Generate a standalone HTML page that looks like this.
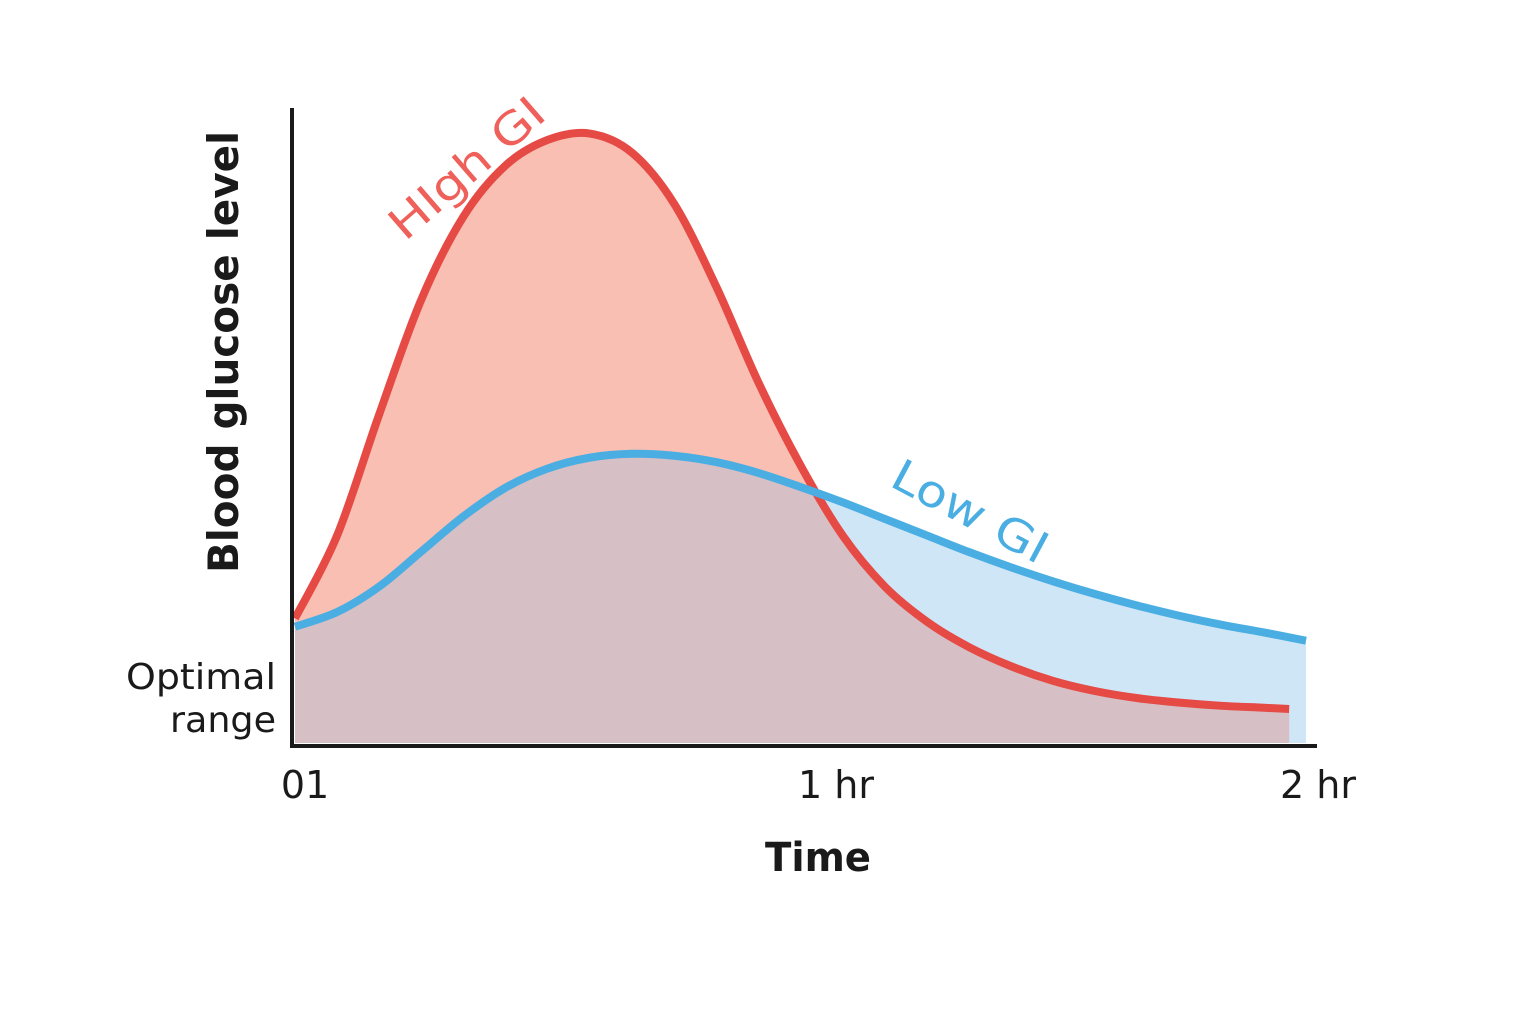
<!DOCTYPE html>
<html><head><meta charset="utf-8"><style>
html,body{margin:0;padding:0;background:#fff;}
svg{display:block;font-family:"DejaVu Sans","Liberation Sans",sans-serif;}
</style></head><body>
<svg id="chart" width="1536" height="1024" viewBox="0 0 1536 1024" xmlns="http://www.w3.org/2000/svg">
<defs><clipPath id="blueClip"><path id="blueClipPath" d=""/></clipPath></defs>
<g id="plot"></g>
<line x1="292" y1="108" x2="292" y2="747" stroke="#1a1a1a" stroke-width="4"/>
<line x1="290" y1="746" x2="1317" y2="746" stroke="#1a1a1a" stroke-width="4"/>
<text transform="translate(238,352) rotate(-90)" text-anchor="middle" font-size="42" font-weight="bold" fill="#1a1a1a" textLength="442" lengthAdjust="spacingAndGlyphs">Blood glucose level</text>
<text text-anchor="end" font-size="36" fill="#1a1a1a"><tspan x="276" y="689" textLength="150" lengthAdjust="spacingAndGlyphs">Optimal</tspan><tspan x="276" y="732" textLength="106" lengthAdjust="spacingAndGlyphs">range</tspan></text>
<g id="ticks"></g>
<text x="818" y="871" text-anchor="middle" font-size="40" font-weight="bold" fill="#1a1a1a" textLength="106" lengthAdjust="spacingAndGlyphs">Time</text>
<text transform="translate(405,242) rotate(-41)" font-size="44" fill="#f0605a" textLength="190" lengthAdjust="spacingAndGlyphs">HIgh GI</text>
<text transform="translate(888,485) rotate(28)" font-size="44" fill="#4aaee3" textLength="170" lengthAdjust="spacingAndGlyphs">Low GI</text>
</svg>
<script>
const timesHigh=[0,5,10,15,20,25,30,35,40,45,50,55,60,65,70,75,80,85,90,95,100,105,110,115,118];
const highGI=[20,33,52,70,83,91,95,96,93,85,72,57,44,33,25,19.5,15.5,12.5,10.2,8.6,7.5,6.8,6.3,6,5.8];
const timesLow=[0,5,10,15,20,25,30,35,40,45,50,55,60,65,70,75,80,85,90,95,100,105,110,115,120];
const lowGI=[18.7,21,25,30.5,36,40.5,43.5,45.2,45.8,45.5,44.5,42.8,40.6,38.2,35.6,33,30.4,28,25.8,23.8,22,20.4,19,17.8,16.5];
const tickValues=[0,60,120];
const tickLabels=["01","1 hr","2 hr"];
const tickOffsets=[305,836,1318];

const sx=t=>295+t*(1306-295)/120;
const sy=v=>746-v*(746-108)/100;
const NS="http://www.w3.org/2000/svg";
function smooth(ts,vs){
  const p=ts.map((t,i)=>[sx(t),sy(vs[i])]);
  let d="M"+p[0][0]+","+p[0][1];
  for(let i=0;i<p.length-1;i++){
    const p0=p[i-1]||p[i],p1=p[i],p2=p[i+1],p3=p[i+2]||p2;
    const c1=[p1[0]+(p2[0]-p0[0])/6,p1[1]+(p2[1]-p0[1])/6];
    const c2=[p2[0]-(p3[0]-p1[0])/6,p2[1]-(p3[1]-p1[1])/6];
    d+=` C${c1[0]},${c1[1]} ${c2[0]},${c2[1]} ${p2[0]},${p2[1]}`;
  }
  return d;
}
function area(ts,vs){
  const base=sy(0)-3;
  return smooth(ts,vs)+` L${sx(ts[ts.length-1])},${base} L${sx(ts[0])},${base} Z`;
}
const plot=document.getElementById('plot');
function mk(tag,attrs){const e=document.createElementNS(NS,tag);for(const k in attrs)e.setAttribute(k,attrs[k]);plot.appendChild(e);return e;}
const blueArea=area(timesLow,lowGI), redArea=area(timesHigh,highGI);
document.getElementById('blueClipPath').setAttribute('d',blueArea);
let e;
e=mk('path',{d:blueArea,fill:'#cfe6f7'});


e=mk('path',{d:redArea,fill:'#f9bfb3'});


e=mk('path',{d:redArea,fill:'#d6bfc5','clip-path':'url(#blueClip)'});


e=mk('path',{d:smooth(timesHigh,highGI),fill:'none',stroke:'#e64a45','stroke-width':8});


e=mk('path',{d:smooth(timesLow,lowGI),fill:'none',stroke:'#4aaee3','stroke-width':8});


const tg=document.getElementById('ticks');
tickValues.forEach((v,i)=>{
  const t=document.createElementNS(NS,'text');
  t.setAttribute('x',tickOffsets[i]);
  t.setAttribute('y',798);
  t.setAttribute('text-anchor','middle');
  t.setAttribute('font-size','38');
  t.setAttribute('fill','#1a1a1a');
  t.textContent=tickLabels[i];
  
  
  tg.appendChild(t);
});
</script>
</body></html>
